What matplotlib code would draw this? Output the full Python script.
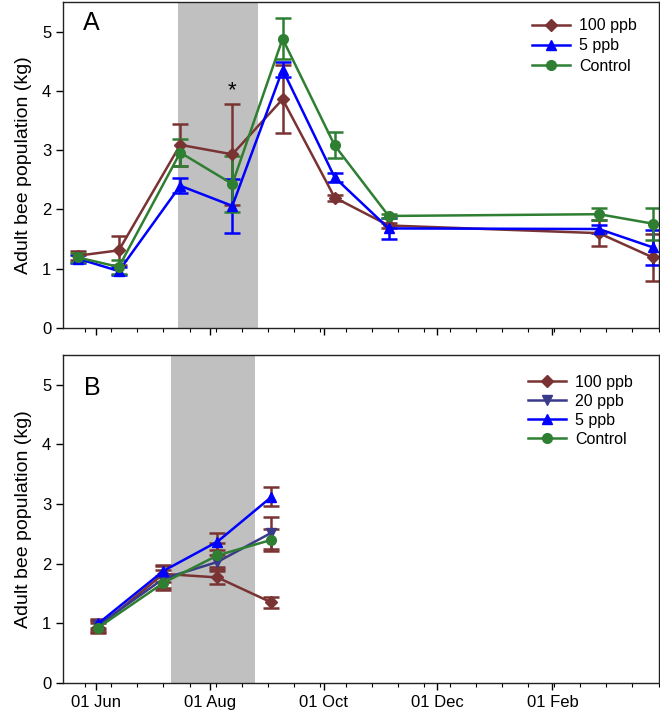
import matplotlib
matplotlib.use("Agg")
import matplotlib.pyplot as plt
import matplotlib.dates as mdates
from matplotlib.lines import Line2D
import numpy as np
import datetime as dt

plt.rcParams['font.family'] = ['Liberation Sans', 'DejaVu Sans']

# ---------------- Data ----------------
# Panel A
dates_a = ["2014-05-22", "2014-06-13", "2014-07-16", "2014-08-13", "2014-09-09",
           "2014-10-07", "2014-11-05", "2015-02-26", "2015-03-27"]
a_100 = [1.22, 1.31, 3.09, 2.93, 3.86, 2.20, 1.73, 1.60, 1.19]
a_100_err = [0.08, 0.25, 0.35, 0.85, 0.57, 0.05, 0.04, 0.22, 0.40]
a_5 = [1.17, 0.96, 2.40, 2.06, 4.36, 2.54, 1.68, 1.67, 1.36]
a_5_err = [0.07, 0.07, 0.13, 0.45, 0.12, 0.08, 0.18, 0.07, 0.30]
a_ctl = [1.19, 1.03, 2.96, 2.43, 4.88, 3.08, 1.89, 1.92, 1.76]
a_ctl_err = [0.07, 0.12, 0.23, 0.47, 0.35, 0.22, 0.03, 0.10, 0.27]
shade_a = ["2014-07-15", "2014-08-27"]
star_date = "2014-08-13"
star_y = 4.0

# Panel B
dates_b = ["2014-06-02", "2014-07-07", "2014-08-05", "2014-09-03"]
b_100 = [0.94, 1.83, 1.77, 1.35]
b_100_err = [0.10, 0.14, 0.11, 0.10]
b_20 = [0.97, 1.75, 2.03, 2.52]
b_20_err = [0.08, 0.15, 0.12, 0.27]
b_5 = [1.00, 1.88, 2.37, 3.12]
b_5_err = [0.08, 0.10, 0.14, 0.16]
b_ctl = [0.93, 1.68, 2.14, 2.40]
b_ctl_err = [0.08, 0.12, 0.20, 0.18]
shade_b = ["2014-07-11", "2014-08-25"]

xlim = ["2014-05-14", "2015-03-30"]
yticks = [0, 1, 2, 3, 4, 5]

# ---------------- Style ----------------
BROWN = "#7a3333"
BLUE = "#0000ff"
GREEN = "#2f7f32"
NAVY = "#3a3a8a"
SHADE = "#c0c0c0"

def d(s):
    return mdates.date2num(dt.datetime.strptime(s, "%Y-%m-%d"))

fig = plt.figure(figsize=(6.6, 7.15), dpi=100)
axA = fig.add_axes([63/660, 1-328/715, 595.5/660, 326/715])
axB = fig.add_axes([63/660, 1-683/715, 595.5/660, 328/715])

minor_start = d("2014-05-26")
minor_ticks = [minor_start + 14*k for k in range(0, 23)]

def style_axis(ax):
    ax.set_xlim(d(xlim[0]), d(xlim[1]))
    ax.set_ylim(0, 5.5)
    ax.set_yticks(yticks)
    ax.xaxis.set_major_locator(mdates.MonthLocator(bymonth=[2, 4, 6, 8, 10, 12], bymonthday=1))
    ax.xaxis.set_major_formatter(mdates.DateFormatter("%d %b"))
    ax.xaxis.set_minor_locator(matplotlib.ticker.FixedLocator(minor_ticks))
    ax.tick_params(axis='both', which='major', direction='out', length=5, width=1, labelsize=12)
    ax.tick_params(axis='x', which='minor', direction='out', length=3, width=0.8)
    for sp in ax.spines.values():
        sp.set_linewidth(1.0)
        sp.set_color("#222222")
    ax.set_ylabel("Adult bee population (kg)", fontsize=14, labelpad=7)

def series(ax, x, y, e, color, marker, label, ecolor=None, ms=7):
    ax.errorbar(x, y, yerr=e, color=color, marker=marker, markersize=ms,
                linewidth=1.8, elinewidth=1.8, capsize=6, capthick=1.8,
                ecolor=ecolor if ecolor else color, label=label)
    return Line2D([], [], color=color, marker=marker, markersize=ms, linewidth=1.8, label=label)

# Panel A
xa = [d(s) for s in dates_a]
axA.axvspan(d(shade_a[0]), d(shade_a[1]), color=SHADE, zorder=0, lw=0)
hA = [series(axA, xa, a_100, a_100_err, BROWN, 'D', "100 ppb", ms=6),
      series(axA, xa, a_5, a_5_err, BLUE, '^', "5 ppb"),
      series(axA, xa, a_ctl, a_ctl_err, GREEN, 'o', "Control")]
style_axis(axA)
axA.tick_params(axis='x', labelbottom=False)
axA.text(0.033, 0.972, "A", transform=axA.transAxes, fontsize=18, va='top', ha='left')
axA.text(d(star_date), star_y, "*", fontsize=16, ha='center', va='center')
axA.legend(handles=hA, loc='upper left', bbox_to_anchor=(0.787, 0.95), frameon=False,
           fontsize=11.5, handlelength=2.4, handletextpad=0.55, labelspacing=0.32,
           borderaxespad=0, borderpad=0)

# Panel B
xb = [d(s) for s in dates_b]
axB.axvspan(d(shade_b[0]), d(shade_b[1]), color=SHADE, zorder=0, lw=0)
hB = [series(axB, xb, b_100, b_100_err, BROWN, 'D', "100 ppb", ecolor=BROWN, ms=6),
      series(axB, xb, b_20, b_20_err, NAVY, 'v', "20 ppb", ecolor=BROWN),
      series(axB, xb, b_5, b_5_err, BLUE, '^', "5 ppb", ecolor=BROWN),
      series(axB, xb, b_ctl, b_ctl_err, GREEN, 'o', "Control", ecolor=BROWN)]
style_axis(axB)
axB.text(0.036, 0.935, "B", transform=axB.transAxes, fontsize=18, va='top', ha='left')
axB.legend(handles=hB, loc='upper left', bbox_to_anchor=(0.781, 0.94), frameon=False,
           fontsize=11.5, handlelength=2.4, handletextpad=0.55, labelspacing=0.25,
           borderaxespad=0, borderpad=0)

fig.savefig("out.png", dpi=100)
